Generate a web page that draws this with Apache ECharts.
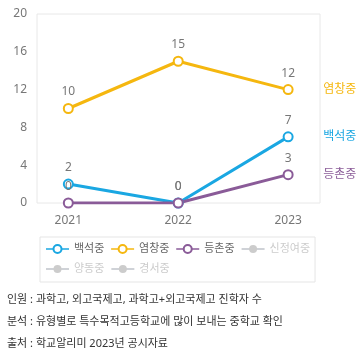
<!DOCTYPE html>
<html><head><meta charset="utf-8">
<script src="https://cdn.jsdelivr.net/npm/echarts@6/dist/echarts.min.js"></script>
<style>html,body{margin:0;padding:0;background:#fff}#c{width:364px;height:357px}</style>
</head><body><div id="c"></div>
<script>
const years = [2021, 2022, 2023];
const names = ['백석중', '염창중', '등촌중', '신정여중', '양동중', '경서중'];
const baekseok = [2, 0, 7];
const yeomchang = [10, 15, 12];
const deungchon = [0, 0, 3];
const sinjeong = [];
const yangdong = [];
const gyeongseo = [];
const yTicks = [0, 4, 8, 12, 16, 20];
const colors = ['#1aa7e2', '#f5b70f', '#8a5b98', '#cccccc', '#cccccc', '#cccccc'];
const notes = ['인원 : 과학고, 외고국제고, 과학고+외고국제고 진학자 수', '분석 : 유형별로 특수목적고등학교에 많이 보내는 중학교 확인', '출처 : 학교알리미 2023년 공시자료'];

const font = "'Noto Sans', 'Noto Sans CJK KR', sans-serif";
const all = [baekseok, yeomchang, deungchon, sinjeong, yangdong, gyeongseo];
const chart = echarts.init(document.getElementById('c'));
const series = names.map((n, i) => ({
  name: n, type: 'line',
  data: all[i].map((v, j) => [years[j], v]),
  symbol: i < 3 ? 'emptyCircle' : 'circle', symbolSize: 9,
  lineStyle: { width: 3, color: colors[i] },
  itemStyle: { color: colors[i], borderWidth: 2 },
  label: { show: true, position: 'top', distance: 5, color: '#777', fontSize: 12, fontFamily: font },
  endLabel: { show: true, formatter: '{a}', color: colors[i], fontSize: 12, fontFamily: font, distance: 35 },
  emphasis: { disabled: true },
  animation: false
}));
const selected = {};
names.forEach((n, i) => selected[n] = i < 3);
chart.setOption({
  animation: false,
  textStyle: { fontFamily: font },
  grid: { left: 37, right: 44, top: 14, bottom: 154, show: true, borderColor: '#e8e8e8', borderWidth: 1 },
  xAxis: {
    type: 'value', min: 2020.715, max: 2023.29,
    axisLine: { show: false }, axisTick: { show: false }, splitLine: { show: false },
    axisLabel: { customValues: years, formatter: v => String(v), color: '#777', fontSize: 12, margin: 12 }
  },
  yAxis: {
    type: 'value', min: 0, max: 20, interval: 4,
    axisLine: { show: false }, axisTick: { show: false }, splitLine: { show: false },
    axisLabel: { customValues: yTicks, color: '#777', fontSize: 12, margin: 10 }
  },
  legend: {
    left: 40, top: 237, width: 280, padding: [5, 5, 6, 5],
    borderColor: '#e5e5e5', borderWidth: 1,
    itemWidth: 23, itemHeight: 10, itemGap: 6,
    lineStyle: { width: 1.5 }, itemStyle: { borderWidth: 1.5 },
    textStyle: { color: '#666', fontSize: 11, lineHeight: 14 }, inactiveColor: '#ccc',
    data: names, selected: selected
  },
  graphic: notes.map((t, i) => ({
    type: 'text', left: 7, top: 294 + i * 22,
    style: { text: t, fill: '#333', fontSize: 11, fontFamily: font }
  })),
  series: series
});
</script></body></html>
